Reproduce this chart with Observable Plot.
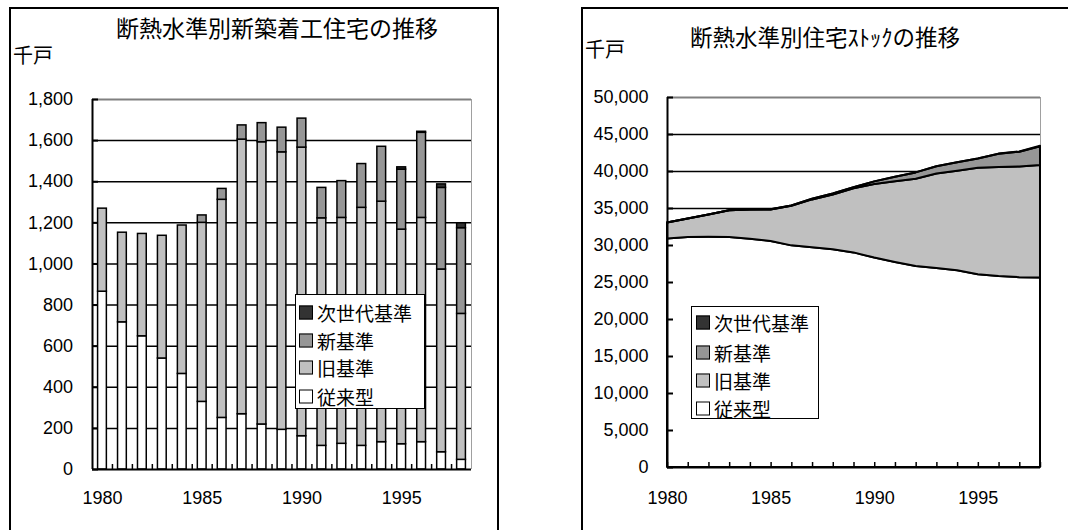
<!DOCTYPE html>
<html><head><meta charset="utf-8">
<script src="https://cdn.jsdelivr.net/npm/d3@7"></script>
<script src="https://cdn.jsdelivr.net/npm/@observablehq/plot@0.6"></script>
<style>
html,body{margin:0;padding:0;background:#fff;width:1068px;height:530px;overflow:hidden;}
body{position:relative;font-family:"Liberation Sans",Arial,sans-serif;}
.box{position:absolute;border:2px solid #000;box-sizing:border-box;}
.jp{font-family:"Noto Sans CJK JP",sans-serif;position:absolute;white-space:nowrap;color:#000;line-height:1;transform:translate(-50%,-50%);}
.chart{position:absolute;top:0;}
.legend{position:absolute;border:1.5px solid #000;background:#fff;box-sizing:border-box;z-index:3;}
.row{position:absolute;display:flex;align-items:center;font-family:"Noto Sans CJK JP",sans-serif;font-size:19px;line-height:1;transform:translateY(-50%);}
.sw{width:12px;height:12px;border:1.5px solid #000;box-sizing:content-box;margin-right:5px;}
</style></head>
<body>
<div class="box" style="left:9px;top:7px;width:490px;height:540px;"></div>
<div class="box" style="left:581px;top:7px;width:500px;height:540px;"></div>
<div id="leftChart" class="chart" style="left:0px;"></div>
<div id="rightChart" class="chart" style="left:534px;"></div>
<div class="jp" style="left:277px;top:27px;font-size:23px;">断熱水準別新築着工住宅の推移</div>
<div class="jp" style="left:33px;top:55px;font-size:20px;">千戸</div>
<div class="jp" style="left:825px;top:36px;font-size:22.5px;">断熱水準別住宅ｽﾄｯｸの推移</div>
<div class="jp" style="left:605px;top:49px;font-size:20px;">千戸</div>
<div id="legendL" class="legend" style="left:295px;top:294px;width:130px;height:115px;"></div>
<div id="legendR" class="legend" style="left:691px;top:306px;width:128px;height:113px;"></div>
<script>
// ---- data ----
const years = [1980,1981,1982,1983,1984,1985,1986,1987,1988,1989,1990,1991,1992,1993,1994,1995,1996,1997,1998];
const seriesNames = ["従来型","旧基準","新基準","次世代基準"];
const seriesColors = ["#ffffff","#c0c0c0","#969696","#333333"];
const legendOrder = ["次世代基準","新基準","旧基準","従来型"];

// 新築着工住宅 (千戸)
const newConv = [865,716,648,540,465,329,251,269,219,193,162,115,125,115,133,123,133,84,47];
const newOld  = [404,436,498,597,722,871,1061,1336,1373,1350,1404,1107,1099,1158,1170,1044,1091,889,710];
const newNew  = [0,0,0,0,0,36,53,69,93,120,141,148,179,213,267,292,414,397,417];
const newNext = [0,0,0,0,0,0,0,0,0,0,0,0,0,0,0,11,5,17,24];

// 住宅ストック (千戸)
const stockConv = [30870,31080,31100,31080,30850,30540,29950,29700,29420,29000,28300,27700,27150,26900,26600,26040,25800,25650,25600];
const stockOld  = [2160,2500,3030,3610,3950,4260,5340,6460,7410,8650,9950,10900,11800,12750,13440,14410,14730,14970,15200];
const stockNew  = [0,0,0,0,0,30,60,90,120,150,350,620,860,1000,1150,1240,1800,1990,2530];
const stockNext = [0,0,0,0,0,0,0,0,0,0,0,0,0,0,0,10,20,40,70];

const leftYTicks = [0,200,400,600,800,1000,1200,1400,1600,1800];
const rightYTicks = [0,5000,10000,15000,20000,25000,30000,35000,40000,45000,50000];
const xLabelYears = [1980,1985,1990,1995];

// ---- build tables ----
function toLong(arrs){
  const out = [];
  arrs.forEach((arr,i)=>arr.forEach((v,j)=>out.push({year:years[j],series:seriesNames[i],value:v})));
  return out;
}
const longNew = toLong([newConv,newOld,newNew,newNext]).filter(d=>d.value>0);
const longStock = toLong([stockConv,stockOld,stockNew,stockNext]);

const fmt = d3.format(",");
const baseStyle = {background:"transparent",fontFamily:"'Liberation Sans', Arial, sans-serif",fontSize:"18px",color:"black",overflow:"visible"};
const colorScale = {domain:seriesNames,range:seriesColors};

const xDomL = [years[0]-0.5, years[years.length-1]+0.5];
const boundaries = years.slice(1).map(y=>y-0.5);
const leftGrid = leftYTicks.slice(1,-1);
const leftTop = leftYTicks[leftYTicks.length-1];

const left = Plot.plot({
  width:534, height:530,
  marginLeft:92, marginRight:63, marginTop:99, marginBottom:61,
  x:{type:"linear", domain:xDomL},
  y:{domain:[0,leftTop]},
  color:colorScale,
  style:baseStyle,
  marks:[
    Plot.ruleY(leftGrid,{stroke:"black",strokeWidth:1.5}),
    Plot.ruleY([leftTop],{stroke:"#808080",strokeWidth:2}),
    Plot.ruleX([xDomL[1]],{stroke:"#a0a0a0",strokeWidth:1}),
    Plot.rectY(longNew,{x1:d=>d.year-0.22,x2:d=>d.year+0.22,y:"value",fill:"series",stroke:"black",strokeWidth:1.5}),
    Plot.ruleX([xDomL[0]],{stroke:"black",strokeWidth:2}),
    Plot.ruleY([0],{stroke:"black",strokeWidth:2}),
    Plot.axisY({ticks:leftYTicks,tickSize:-6,tickPadding:25.5,tickFormat:fmt,label:null,fontSize:18,strokeWidth:2}),
    Plot.axisX({ticks:xLabelYears,tickSize:0,tickPadding:22,tickFormat:d=>String(d),label:null,fontSize:18}),
    Plot.axisX({ticks:boundaries,tickSize:-5,tickFormat:()=>"",label:null,strokeWidth:1.5})
  ]
});
document.getElementById("leftChart").appendChild(left);

const rightGrid = rightYTicks.slice(1,-1);
const rightTop = rightYTicks[rightYTicks.length-1];
const xDomR = [years[0], years[years.length-1]];

const right = Plot.plot({
  width:534, height:530,
  marginLeft:133, marginRight:28, marginTop:97, marginBottom:63,
  x:{type:"linear", domain:xDomR},
  y:{domain:[0,rightTop]},
  color:colorScale,
  style:baseStyle,
  marks:[
    Plot.ruleY(rightGrid,{stroke:"black",strokeWidth:1.5}),
    Plot.ruleY([rightTop],{stroke:"#808080",strokeWidth:2}),
    Plot.ruleX([xDomR[1]],{stroke:"#a0a0a0",strokeWidth:1}),
    Plot.areaY(longStock,{x:"year",y:"value",fill:"series",z:"series",stroke:"black",strokeWidth:2}),
    Plot.ruleX([xDomR[0]],{stroke:"black",strokeWidth:2}),
    Plot.ruleY([0],{stroke:"black",strokeWidth:2}),
    Plot.axisY({ticks:rightYTicks,tickSize:-6,tickPadding:25,tickFormat:fmt,label:null,fontSize:18,strokeWidth:2}),
    Plot.axisX({ticks:xLabelYears,tickSize:0,tickPadding:24,tickFormat:d=>String(d),label:null,fontSize:18}),
    Plot.axisX({ticks:years,tickSize:-5,tickFormat:()=>"",label:null,strokeWidth:1.5})
  ]
});
document.getElementById("rightChart").appendChild(right);

// ---- legends ----
function legend(id, rowTops, swLeft, textGap){
  const el = document.getElementById(id);
  legendOrder.forEach((name,i)=>{
    const row = document.createElement("div");
    row.className = "row";
    row.style.top = rowTops[i]+"px";
    row.style.left = swLeft+"px";
    const sw = document.createElement("div");
    sw.className = "sw";
    sw.style.background = seriesColors[seriesNames.indexOf(name)];
    sw.style.marginRight = textGap+"px";
    const tx = document.createElement("span");
    tx.textContent = name;
    row.appendChild(sw); row.appendChild(tx);
    el.appendChild(row);
  });
}
legend("legendL",[17,45,72,101],3,4);
legend("legendR",[15,45,73,101],4,4);
</script>
</body></html>
